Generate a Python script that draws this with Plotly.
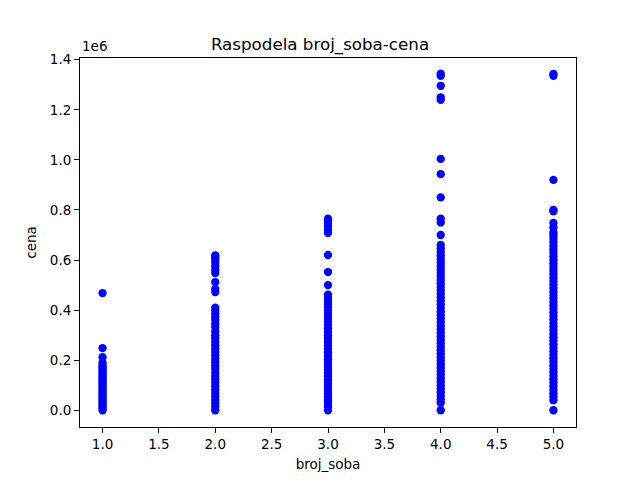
import plotly.graph_objects as go

# broj_soba categories and cena (price) values
soba_1 = [0, 8000, 15000, 22000, 30000, 37000, 45000, 52000, 60000, 68000, 75000, 83000,
          90000, 98000, 105000, 112000, 120000, 128000, 135000, 143000, 150000, 158000,
          165000, 172000, 180000, 190000, 212000, 248000, 468000]
soba_2 = [0, 14000, 28000, 41000, 55000, 69000, 82000, 96000, 110000, 124000, 137000,
          150000, 165000, 178000, 192000, 205000, 219000, 233000, 246000, 260000, 274000,
          288000, 300000, 315000, 332000, 345000, 360000, 372000, 385000, 398000, 410000,
          472000, 485000, 512000, 548000, 560000, 575000, 590000, 600000, 610000, 618000]
soba_3 = [0, 13000, 27000, 40000, 54000, 68000, 81000, 95000, 109000, 122000, 136000,
          150000, 163000, 177000, 191000, 204000, 218000, 232000, 245000, 259000, 273000,
          286000, 300000, 314000, 327000, 341000, 355000, 368000, 382000, 396000, 410000,
          423000, 437000, 450000, 462000, 500000, 552000, 620000, 708000, 720000, 735000,
          748000, 758000, 765000]
soba_4 = [0, 30000, 44000, 58000, 72000, 86000, 100000, 114000, 128000, 142000, 156000,
          170000, 184000, 198000, 212000, 226000, 240000, 254000, 268000, 282000, 296000,
          310000, 324000, 338000, 352000, 366000, 380000, 394000, 408000, 422000, 436000,
          450000, 464000, 478000, 492000, 506000, 520000, 534000, 548000, 562000, 576000,
          590000, 604000, 618000, 632000, 646000, 660000, 700000, 750000, 765000, 850000,
          943000, 1004000, 1240000, 1250000, 1296000, 1336000, 1344000]
soba_5 = [0, 40000, 54000, 68000, 82000, 96000, 110000, 124000, 138000, 152000, 166000,
          180000, 194000, 208000, 222000, 236000, 250000, 264000, 278000, 292000, 306000,
          320000, 334000, 348000, 362000, 376000, 390000, 404000, 418000, 432000, 446000,
          460000, 474000, 488000, 502000, 516000, 530000, 544000, 558000, 572000, 586000,
          600000, 614000, 628000, 642000, 656000, 670000, 684000, 698000, 710000, 730000,
          748000, 795000, 800000, 920000, 1336000, 1343000]

groups = [(1, soba_1), (2, soba_2), (3, soba_3), (4, soba_4), (5, soba_5)]
xs, ys = [], []
for k, vals in groups:
    xs += [k] * len(vals)
    ys += vals

y_ticks = [0, 200000, 400000, 600000, 800000, 1000000, 1200000, 1400000]
y_tick_text = ["0.0", "0.2", "0.4", "0.6", "0.8", "1.0", "1.2", "1.4"]
x_ticks = [1.0, 1.5, 2.0, 2.5, 3.0, 3.5, 4.0, 4.5, 5.0]
x_tick_text = ["1.0", "1.5", "2.0", "2.5", "3.0", "3.5", "4.0", "4.5", "5.0"]

fig = go.Figure(go.Scatter(x=xs, y=ys, mode="markers",
                           marker=dict(color="#0000ff", size=8.3, line=dict(width=0))))

font = dict(family="DejaVu Sans", size=13.5, color="black")
axis_common = dict(showgrid=False, zeroline=False, showline=True, linecolor="black",
                   linewidth=1, mirror=True, ticks="outside", ticklen=5, tickwidth=1,
                   tickcolor="black", tickfont=font, automargin=False)

fig.update_layout(
    width=640, height=480,
    margin=dict(l=80, r=64, t=58, b=53),
    paper_bgcolor="white", plot_bgcolor="white",
    showlegend=False,
    font=font,
    title=dict(text="Raspodela broj_soba-cena", x=0.5, xanchor="center",
               y=1 - 44 / 480, yanchor="middle",
               font=dict(family="DejaVu Sans", size=16.7, color="black")),
    xaxis=dict(range=[0.8, 5.2], tickvals=x_ticks, ticktext=x_tick_text,
               title=dict(text="broj_soba", font=font, standoff=8), **axis_common),
    yaxis=dict(range=[-67000, 1407000], tickvals=y_ticks, ticktext=y_tick_text,
               title=dict(text="cena", font=font, standoff=10), **axis_common),
    annotations=[dict(text="1e6", xref="paper", yref="paper", x=0, y=1,
                      xanchor="left", yanchor="bottom", yshift=2, showarrow=False,
                      font=font)],
)

fig.write_html("out.html", config={"displayModeBar": False},
               post_script="document.body.style.margin='0';document.body.style.padding='0';")
